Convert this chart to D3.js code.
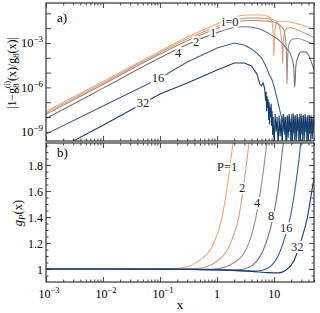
<!DOCTYPE html>
<html>
<head>
<meta charset="utf-8">
<script src="https://cdn.jsdelivr.net/npm/d3@7"></script>
<style>
body { margin: 0; background: #fff; }
text { font-family: "Liberation Serif", "DejaVu Serif", serif; }
</style>
</head>
<body>
<div id="chart"></div>
<script>
// ---- data ----
// panel a): [x, log10 |1 - g8^(i)(x)/g8(x)|]
const a_i0 = [[0.001,-7.62],[0.01,-5.6],[0.1,-3.55],[0.3,-2.6],[1,-1.72],[2,-1.24],[3.5,-1.11],[6,-1.11],[8,-1.21],[9,-1.45],[9.5,-2.12],[9.8,-3.47],[9.9,-3.88],[10.1,-3.1],[10.4,-2.05],[11,-1.65],[12,-1.55],[15,-1.53],[20,-1.6],[30,-1.78],[50,-2.05]];
const a_i1 = [[0.001,-7.72],[0.01,-5.7],[0.1,-3.65],[0.3,-2.72],[1,-1.88],[2,-1.45],[3.5,-1.32],[6,-1.32],[10,-1.45],[12,-1.75],[13,-2.3],[13.8,-3.4],[14.1,-4.4],[14.4,-3.2],[15,-2.4],[16.5,-2.02],[19,-1.97],[25,-2.1],[35,-2.35],[50,-2.63]];
const a_i2 = [[0.001,-7.82],[0.01,-5.8],[0.1,-3.75],[0.3,-2.85],[1,-2.02],[2,-1.6],[3.5,-1.48],[6,-1.5],[10,-1.6],[13,-1.85],[15,-2.2],[16,-3.0],[16.5,-4.0],[16.8,-5.8],[17.3,-3.8],[18.5,-3.0],[21,-2.75],[26,-2.7],[35,-2.85],[50,-3.1]];
const a_i4 = [[0.001,-8.1],[0.01,-6.05],[0.1,-4.0],[0.3,-3.1],[1,-2.3],[2,-1.95],[3,-1.9],[5,-2.0],[8,-2.35],[12,-2.8],[16,-3.3],[20,-3.9],[22,-4.6],[23,-6.0],[24,-4.6],[26,-3.95],[30,-3.6],[35,-3.6],[40,-3.8],[45,-4.3],[50,-4.8]];
const a_i16 = [[0.001,-9.15],[0.01,-7.25],[0.1,-5.36],[0.3,-4.28],[1,-3.34],[2,-3.0],[3,-3.14],[4,-3.4],[5,-3.68],[6,-4.0],[7,-4.49],[8,-5.03],[9.2,-5.5],[10,-5.95],[11,-6.6],[12,-7.2],[13,-7.8],[14.4,-8.4],
  [14.7,-7.85],[15.3,-9.2],[15.9,-8.0],[16.6,-9.8],[17.3,-7.9],[18.0,-9.0],[18.7,-8.0],[19.5,-10],[20.3,-7.8],[21.1,-9.3],[22.0,-7.9],[22.9,-9.6],[23.8,-7.9],[24.8,-9.0],[25.8,-8.1],[26.9,-10],[28.0,-7.8],[29.1,-9.1],[30.4,-7.9],[31.6,-9.7],[32.9,-7.85],[34.3,-9.0],[35.7,-8.0],[37.2,-10],[38.7,-7.9],[40.3,-9.2],[42.0,-7.9],[43.7,-9.6],[45.5,-8.0],[47.4,-9.1],[49.3,-7.9],[50,-8.6]];
const a_i32 = [[0.001,-10.6],[0.01,-8.55],[0.1,-6.45],[0.3,-5.7],[1,-4.82],[2,-4.35],[3,-4.35],[4,-4.55],[5,-5.1],[5.6,-5.77],[6,-5.9],[6.4,-5.7],[6.8,-6.04],
  [7.09,-6.9],[7.24,-6.3],[7.39,-7.6],[7.54,-6.6],[7.7,-7.4],[7.85,-6.8],[8.01,-8.2],[8.17,-7.0],[8.34,-8.5],[8.51,-7.3],[8.68,-8.0],[8.86,-7.1],[9.04,-8.6],[9.23,-7.6],[9.41,-9.2],[9.6,-8.0],[10.0,-10],
  [10.41,-7.8],[10.84,-9.0],[11.29,-8.0],[11.75,-10],[12.24,-7.9],[12.74,-9.3],[13.27,-8.1],[13.81,-10],[14.38,-7.8],[14.98,-9.0],[15.59,-8.0],[16.24,-10],[16.91,-7.9],[17.6,-9.4],[18.33,-7.8],[19.08,-9.0],[19.87,-8.1],[20.69,-10],[21.54,-7.75],[22.43,-9.1],[23.36,-7.9],[24.32,-9.8],[25.32,-7.8],[26.37,-8.9],[27.45,-8.0],[28.59,-10],[29.76,-7.8],[30.99,-9.2],[32.27,-7.9],[33.6,-9.6],[34.99,-7.8],[36.43,-9.0],[37.93,-8.0],[39.5,-10],[41.12,-7.85],[42.82,-9.1],[44.58,-7.9],[46.42,-9.5],[48.34,-8.0],[50.33,-9.0]];

// panel b): [x, g_P(x)]
const b_P1 = [[0.001,1],[0.05,1],[0.1,1.001],[0.224,1.008],[0.5,1.07],[0.92,1.22],[1.22,1.4],[1.5,1.63],[1.83,1.915],[2.0,2.05]];
const b_P2 = [[0.001,1],[0.1,1],[0.2,0.999],[0.45,1.004],[1.0,1.06],[1.8,1.22],[2.4,1.4],[2.9,1.63],[3.5,1.915],[3.9,2.1]];
const b_P4 = [[0.001,1],[0.1,0.999],[0.4,0.997],[0.9,1.0],[2.0,1.05],[3.6,1.2],[4.8,1.4],[5.9,1.63],[7.2,1.915],[8,2.1]];
const b_P8 = [[0.001,1],[0.1,0.999],[0.5,0.997],[1.5,0.993],[2.5,0.995],[4.2,1.03],[7.2,1.2],[9.6,1.4],[11.8,1.63],[14,1.915],[16,2.1]];
const b_P16 = [[0.001,1],[0.1,0.999],[1,0.994],[3,0.986],[5,0.985],[8,1.01],[14.4,1.2],[19.2,1.4],[23.5,1.63],[28.4,1.915],[31,2.1]];
const b_P32 = [[0.001,1],[0.1,0.999],[1,0.993],[4,0.982],[8,0.972],[12,0.97],[16,0.99],[22,1.06],[28.8,1.2],[38.4,1.4],[47,1.63],[51,1.72]];

const topSeries = [a_i0, a_i1, a_i2, a_i4, a_i16, a_i32];
const topNames = ["i=0", "1", "2", "4", "16", "32"];
const topLabelAt = [[1.69,-1.58], [0.85,-2.26], [0.43,-2.93], [0.207,-3.61], [0.092,-5.3], [0.05,-7.05]];
const botSeries = [b_P1, b_P2, b_P4, b_P8, b_P16, b_P32];
const botNames = ["P=1", "2", "4", "8", "16", "32"];
const botLabelAt = [[1.5,1.79], [2.75,1.63], [5.04,1.51], [8.86,1.415], [16.3,1.32], [25.4,1.17]];
const colors = ["#f5a872", "#d2a286", "#a68b83", "#73747f", "#38628f", "#173d6c"];

const xTickVals = [1e-3, 1e-2, 1e-1, 1, 10];
const xTickText = [["10","−3"], ["10","−2"], ["10","−1"], ["1",""], ["10",""]];
const aTickExp = [-9, -8, -7, -6, -5, -4, -3, -2, -1];
const aLabelExp = [-9, -6, -3];
const bTickVals = [1, 1.2, 1.4, 1.6, 1.8];

// ---- layout ----
const width = 320, height = 313;
const left = 46, right = 314;
const aTop = 3, aBot = 141, bTop = 143, bBot = 282;

const svg = d3.select("#chart").append("svg")
    .attr("width", width)
    .attr("height", height);

const x = d3.scaleLog().domain([1e-3, 50]).range([left, right]);
const yA = d3.scaleLog().domain([Math.pow(10, -9.62), Math.pow(10, -0.3)]).range([aBot, aTop]);
const yB = d3.scaleLinear().domain([0.9, 1.97]).range([bBot, bTop]);

const defs = svg.append("defs");
defs.append("clipPath").attr("id", "clipA").append("rect")
    .attr("x", left).attr("y", aTop).attr("width", right - left).attr("height", aBot - aTop);
defs.append("clipPath").attr("id", "clipB").append("rect")
    .attr("x", left).attr("y", bTop).attr("width", right - left).attr("height", bBot - bTop);

// curves
const lineA = d3.line().x(d => x(d[0])).y(d => yA(Math.pow(10, d[1])));
const lineB = d3.line().x(d => x(d[0])).y(d => yB(d[1])).curve(d3.curveMonotoneX);

const gA = svg.append("g").attr("clip-path", "url(#clipA)");
topSeries.forEach((s, i) => {
    gA.append("path")
        .datum(s)
        .attr("d", lineA.curve(i >= 4 ? d3.curveLinear : d3.curveMonotoneX))
        .attr("fill", "none")
        .attr("stroke", colors[i])
        .attr("stroke-width", 1.1);
});

const gB = svg.append("g").attr("clip-path", "url(#clipB)");
botSeries.forEach((s, i) => {
    gB.append("path")
        .datum(s)
        .attr("d", lineB)
        .attr("fill", "none")
        .attr("stroke", colors[i])
        .attr("stroke-width", 1.1);
});

// curve labels with white background
function curveLabel(tx, ty, txt) {
    svg.append("text")
        .attr("x", tx).attr("y", ty + 4.5)
        .attr("text-anchor", "middle")
        .attr("font-size", 12.5)
        .attr("fill", "#222")
        .attr("stroke", "#fff").attr("stroke-width", 4)
        .attr("paint-order", "stroke")
        .text(txt);
}
topNames.forEach((n, i) => curveLabel(x(topLabelAt[i][0]), yA(Math.pow(10, topLabelAt[i][1])), n));
botNames.forEach((n, i) => curveLabel(x(botLabelAt[i][0]), yB(botLabelAt[i][1]), n));

// axes: ticks inward on every side
const xMinor = x.ticks().filter(v => !xTickVals.some(t => Math.abs(t - v) / t < 1e-6));
function xTicks(y, axisFn) {
    svg.append("g").attr("transform", `translate(0,${y})`)
        .call(axisFn(x).tickValues(xTickVals).tickSize(-5).tickFormat(""));
    svg.append("g").attr("transform", `translate(0,${y})`)
        .call(axisFn(x).tickValues(xMinor).tickSize(-2.5).tickFormat(""));
}
xTicks(aBot, d3.axisBottom);
xTicks(aTop, d3.axisTop);
xTicks(bBot, d3.axisBottom);
xTicks(bTop, d3.axisTop);

const aTicks = aTickExp.map(e => Math.pow(10, e));
svg.append("g").attr("transform", `translate(${left},0)`)
    .call(d3.axisLeft(yA).tickValues(aTicks).tickSize(-5).tickFormat(""));
svg.append("g").attr("transform", `translate(${right},0)`)
    .call(d3.axisRight(yA).tickValues(aTicks).tickSize(-5).tickFormat(""));

const bMinor = d3.range(0.95, 1.96, 0.05).filter(v => !bTickVals.some(t => Math.abs(t - v) < 1e-6));
[[left, d3.axisLeft], [right, d3.axisRight]].forEach(([px, fn]) => {
    svg.append("g").attr("transform", `translate(${px},0)`)
        .call(fn(yB).tickValues(bTickVals).tickSize(-5).tickFormat(""));
    svg.append("g").attr("transform", `translate(${px},0)`)
        .call(fn(yB).tickValues(bMinor).tickSize(-2.5).tickFormat(""));
});

svg.selectAll(".domain").remove();
svg.selectAll(".tick line").attr("stroke", "#333").attr("stroke-width", 0.9);

// frames
[[aTop, aBot], [bTop, bBot]].forEach(([t, b]) => {
    svg.append("rect")
        .attr("x", left).attr("y", t)
        .attr("width", right - left).attr("height", b - t)
        .attr("fill", "none").attr("stroke", "#333").attr("stroke-width", 1.2);
});

// tick labels
xTickVals.forEach((v, i) => {
    const t = svg.append("text")
        .attr("x", x(v) + (xTickText[i][1] ? 3 : 0)).attr("y", 298)
        .attr("text-anchor", "middle")
        .attr("font-size", 12)
        .text(xTickText[i][0]);
    if (xTickText[i][1]) {
        t.append("tspan").attr("dy", -5).attr("font-size", 8.5).text(xTickText[i][1]);
    }
});

aLabelExp.forEach(e => {
    svg.append("text")
        .attr("x", 43).attr("y", yA(Math.pow(10, e)) + 4.5)
        .attr("text-anchor", "end")
        .attr("font-size", 12.5)
        .text("10")
        .append("tspan").attr("dy", -5).attr("font-size", 9).text("−" + Math.abs(e));
});

bTickVals.forEach(v => {
    svg.append("text")
        .attr("x", 43).attr("y", yB(v) + 4.5)
        .attr("text-anchor", "end")
        .attr("font-size", 12)
        .text(v === 1 ? "1" : d3.format(".1f")(v));
});

// panel tags and axis titles
svg.append("text").attr("x", 57).attr("y", 22).attr("font-size", 13).text("a)");
svg.append("text").attr("x", 57).attr("y", 157).attr("font-size", 13).text("b)");
svg.append("text").attr("x", 180).attr("y", 309).attr("text-anchor", "middle").attr("font-size", 13).text("x");

const ta = svg.append("text")
    .attr("transform", "translate(16,73) rotate(-90)")
    .attr("text-anchor", "middle")
    .attr("font-size", 12);
ta.append("tspan").text("|1−g");
ta.append("tspan").attr("dy", 3).attr("font-size", 8.5).text("8");
ta.append("tspan").attr("dx", -4.5).attr("dy", -9).attr("font-size", 7.5).text("(i)");
ta.append("tspan").attr("dy", 6).text("(x)/g");
ta.append("tspan").attr("dy", 3).attr("font-size", 8.5).text("8");
ta.append("tspan").attr("dy", -3).text("(x)|");

const tb = svg.append("text")
    .attr("transform", "translate(22,213) rotate(-90)")
    .attr("text-anchor", "middle")
    .attr("font-size", 12.5);
tb.append("tspan").attr("font-style", "italic").text("g");
tb.append("tspan").attr("dy", 3).attr("font-size", 9).attr("font-style", "italic").text("P");
tb.append("tspan").attr("dy", -3).text("(x)");
</script>
</body>
</html>
